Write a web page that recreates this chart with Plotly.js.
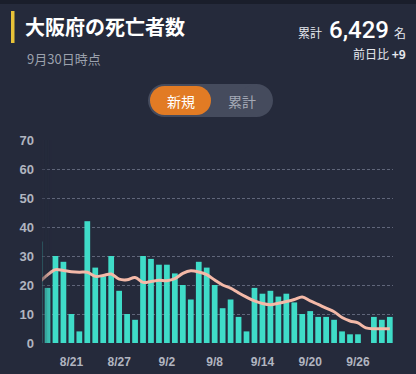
<!DOCTYPE html>
<html>
<head>
<meta charset="utf-8">
<script src="https://cdn.plot.ly/plotly-3.0.1.min.js"></script>
<style>
  html, body { margin: 0; padding: 0; background: #252a3b; }
  #chart { width: 416px; height: 374px; }
</style>
</head>
<body>
<div id="chart"></div>
<script>
// ---- data ----
const dates = ['8/17','8/18','8/19','8/20','8/21','8/22','8/23','8/24','8/25','8/26','8/27','8/28','8/29','8/30','8/31',
  '9/1','9/2','9/3','9/4','9/5','9/6','9/7','9/8','9/9','9/10','9/11','9/12','9/13','9/14','9/15',
  '9/16','9/17','9/18','9/19','9/20','9/21','9/22','9/23','9/24','9/25','9/26','9/27','9/28','9/29','9/30'];
const dailyDeaths = [35,19,30,28,10,4,42,26,23,30,18,10,8,30,29,
  27,27,24,20,15,28,26,20,12,15,9,4,19,17,18,
  16,17,14,10,11,9,9,8,4,3,3,0,9,8,9];
const movingAvg = [21.0,23.5,25.3,25.0,24.6,24.4,24.4,23.0,23.3,23.8,22.0,21.8,22.6,20.9,21.2,
  21.6,21.5,22.2,24.0,24.9,24.5,23.6,21.7,20.0,18.9,17.3,15.8,14.5,13.6,13.2,
  13.7,14.3,15.0,15.9,14.5,13.3,12.0,10.8,8.8,7.6,6.9,5.2,4.9,4.9,4.9];
const xTickLabels = ['8/21','8/27','9/2','9/8','9/14','9/20','9/26'];
const yTickValues = [0,10,20,30,40,50,60,70];
const titleText = '大阪府の死亡者数';
const asOfText = '9月30日時点';
const totalLabel = '累計';
const totalValue = '6,429';
const unitLabel = '名';
const dayDiffText = '前日比 <b>+9</b>';
const toggleLabels = ['新規','累計'];

// ---- layout helpers (pixel -> paper) ----
const W = 416, H = 374, ML = 42, MR = 23, MT = 140, MB = 31;
const PW = W - ML - MR, PH = H - MT - MB;
const px = p => (p - ML) / PW;
const py = p => (H - MB - p) / PH;

const BG = '#252a3b';
const JP = '"Noto Sans CJK JP", "Noto Sans", sans-serif';

function rectPx(x0, y0, x1, y1, color, layer) {
  return {type: 'rect', xref: 'paper', yref: 'paper', x0: px(x0), x1: px(x1), y0: py(y1), y1: py(y0),
    fillcolor: color, line: {width: 0}, layer: layer || 'above'};
}
function circPx(cx, cy, r, color) {
  return {type: 'circle', xref: 'paper', yref: 'paper', x0: px(cx - r), x1: px(cx + r), y0: py(cy + r), y1: py(cy - r),
    fillcolor: color, line: {width: 0}, layer: 'above'};
}
function pillPx(x0, y0, x1, y1, color) {
  const r = (y1 - y0) / 2;
  return [rectPx(x0 + r, y0, x1 - r, y1, color), circPx(x0 + r, y0 + r, r, color), circPx(x1 - r, y0 + r, r, color)];
}
function textPx(text, x, y, anchor, size, color, family, weight) {
  return {text: text, xref: 'paper', yref: 'paper', x: px(x), y: py(y), xanchor: anchor, yanchor: 'middle',
    showarrow: false, font: {size: size, color: color, family: family || JP, weight: weight || 'normal'}};
}

const shapes = [
  rectPx(0, 0, W, 4, '#1a1e2b'),
  rectPx(11, 11, 14.5, 43, '#e8c238'),
  ...pillPx(148, 84, 273, 117, '#454b5d'),
  ...pillPx(150, 86, 211, 115, '#e27b24')
];
// left fade over first bars
const fadeSteps = [0.6, 0.45, 0.3, 0.18, 0.08];
fadeSteps.forEach((a, i) => {
  shapes.push({type: 'rect', xref: 'paper', yref: 'paper', x0: px(40 + i * 2.4), x1: px(40 + (i + 1) * 2.4 + 0.01),
    y0: 0, y1: 1, fillcolor: 'rgba(37,42,59,' + a + ')', line: {width: 0}, layer: 'above'});
});

const annotations = [
  textPx(titleText, 23, 27, 'left', 20, '#ffffff', JP, 'bold'),
  textPx(asOfText, 25, 58, 'left', 13, '#9ca1ad'),
  textPx(totalLabel, 324, 32, 'right', 12, '#e6e8ee'),
  textPx(totalValue, 391, 30, 'right', 24, '#ffffff', 'Roboto, "Noto Sans", sans-serif', 500),
  textPx(unitLabel, 408, 32, 'right', 12, '#e6e8ee'),
  textPx(dayDiffText, 408, 53, 'right', 12, '#e6e8ee'),
  textPx(toggleLabels[0], 180.5, 101, 'center', 14, '#ffffff'),
  textPx(toggleLabels[1], 241.5, 101, 'center', 14, '#a4a9b6')
];

const traces = [
  {type: 'bar', x: dates, y: dailyDeaths, marker: {color: '#3fdcc8', line: {width: 0}}, hoverinfo: 'skip'},
  {type: 'scatter', mode: 'lines', x: dates, y: movingAvg, line: {color: '#f4b9a8', width: 3, shape: 'spline', smoothing: 1}, hoverinfo: 'skip'}
];

const layout = {
  width: W, height: H,
  margin: {l: ML, r: MR, t: MT, b: MB, pad: 0},
  paper_bgcolor: BG, plot_bgcolor: BG,
  showlegend: false,
  bargap: 0.28,
  xaxis: {type: 'category', range: [0.31, 44.4], tickvals: xTickLabels, ticktext: xTickLabels,
    showgrid: false, zeroline: false, showline: false, ticks: '',
    ticklabelstandoff: 10,
    tickfont: {family: '"Liberation Sans", Arial, sans-serif', size: 12, color: '#b1b5c0', weight: 'bold'},
    fixedrange: true},
  yaxis: {range: [0, 70], tickvals: yTickValues, ticktext: yTickValues.map(String),
    showgrid: true, gridcolor: '#60667a', griddash: '3px,2px', gridwidth: 1, zeroline: false, ticks: '',
    ticklabelstandoff: 7,
    tickfont: {family: '"Liberation Sans", Arial, sans-serif', size: 13, color: '#b1b5c0', weight: 'bold'},
    fixedrange: true},
  shapes: shapes,
  annotations: annotations
};

Plotly.newPlot('chart', traces, layout, {displayModeBar: false, staticPlot: true});
</script>
</body>
</html>
